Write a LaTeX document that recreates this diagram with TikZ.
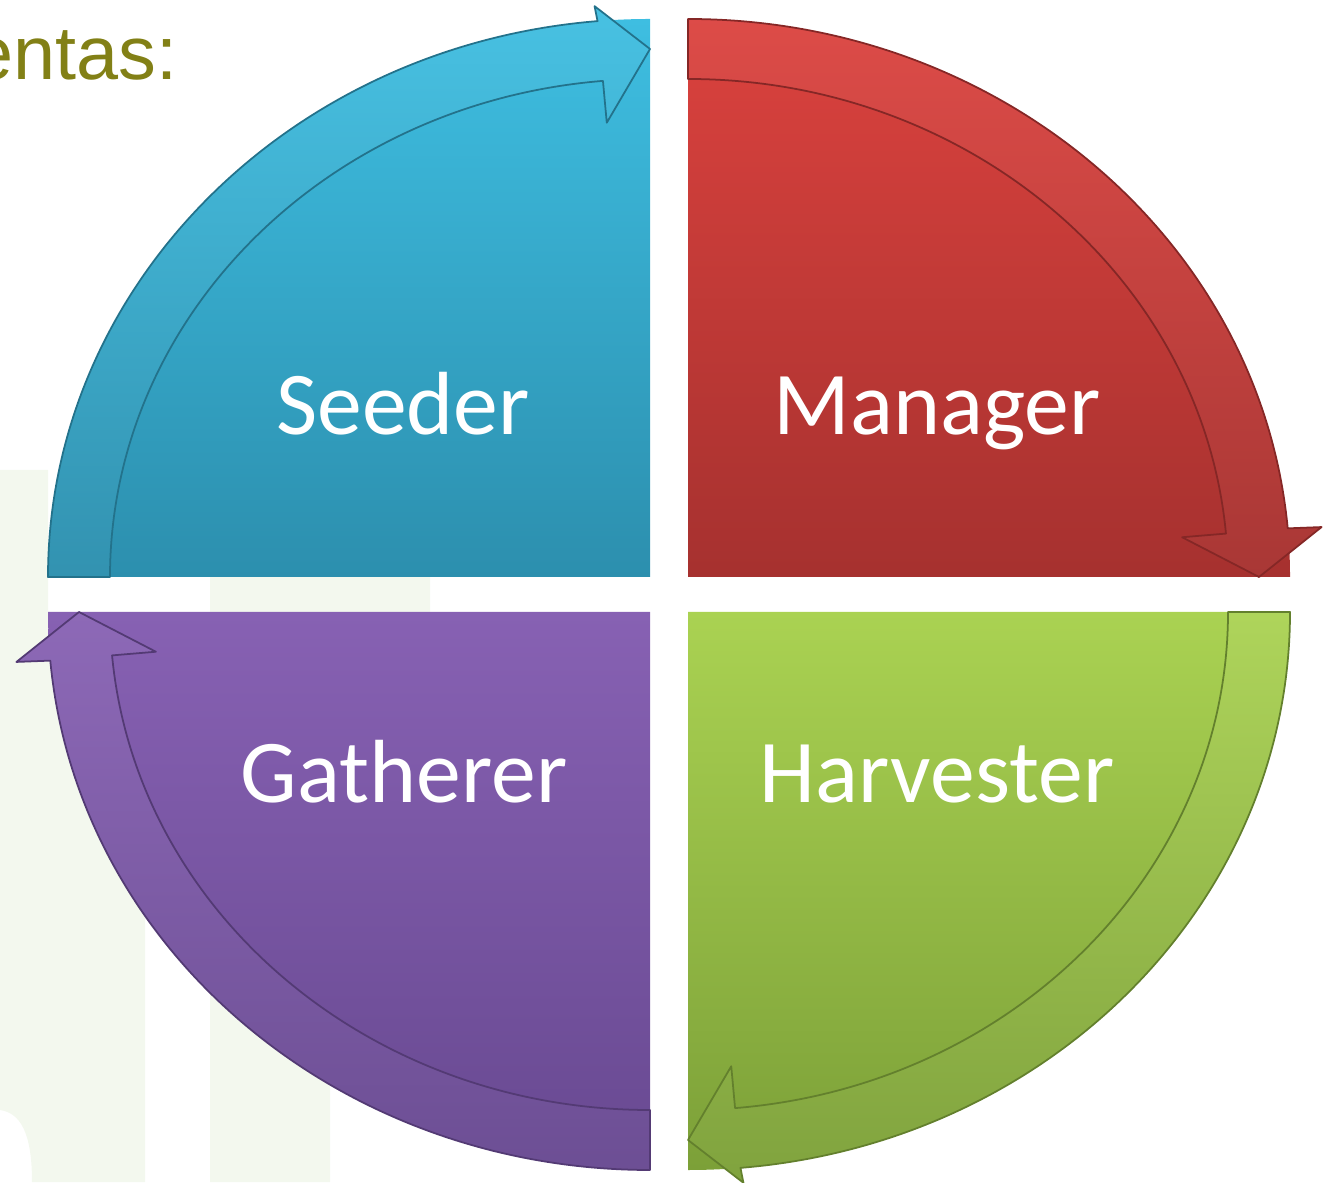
\documentclass[tikz,border=0pt]{standalone}
\usepackage{fontspec}
\setmainfont{Carlito}
\newfontfamily\headfont{Liberation Sans}
\usetikzlibrary{positioning}

\definecolor{seedtop}{RGB}{62,190,225}
\definecolor{seedbot}{RGB}{44,143,174}
\definecolor{mantop}{RGB}{219,66,62}
\definecolor{manbot}{RGB}{166,49,47}
\definecolor{hartop}{RGB}{170,210,82}
\definecolor{harbot}{RGB}{124,160,56}
\definecolor{gattop}{RGB}{135,97,179}
\definecolor{gatbot}{RGB}{104,73,145}
\definecolor{olivehead}{RGB}{130,128,22}
\definecolor{faintgreen}{RGB}{243,248,238}

\tikzset{rolename/.style={text=white, font=\fontsize{25.5}{30}\selectfont,
    inner sep=0pt, anchor=base}}
\tikzset{watermark/.style={fill=faintgreen, draw=none}}
\tikzset{arrowband/.style={line width=.5pt, line join=round}}

% #1 corner, #2 start angle, #3 head angle, #4 end angle, #5 top, #6 bottom
\newcommand{\cyclequad}[6]{%
  \shade[top color=#5, bottom color=#6] (#1) -- ([shift={(#1)}]#2:602 and 558)
    arc[start angle=#2, end angle=#4, x radius=602, y radius=558] -- cycle;
  \shade[arrowband, top color=#5!95!white, bottom color=#6!97!white, draw=#6!80!black]
    ([shift={(#1)}]#2:602 and 558)
    arc[start angle=#2, end angle=#3, x radius=602, y radius=558]
    -- ([shift={(#1)}]#3:636 and 573) -- ([shift={(#1)}]#4:571 and 528)
    -- ([shift={(#1)}]#3:496 and 456) -- ([shift={(#1)}]#3:540 and 498)
    arc[start angle=#3, end angle=#2, x radius=540, y radius=498] -- cycle;
}

\begin{document}
\begin{tikzpicture}[x=0.01cm, y=0.01cm]
    \useasboundingbox (0,0) rectangle (1325,1182);
    % faint logo behind
    \fill[watermark] (0,712) -- (48,712) -- (48,570) -- (145,570) -- (145,0) -- (32,0)
        .. controls (32,50) and (20,69) .. (0,72) -- cycle;
    \fill[watermark] (210,605) -- (430,605) -- (430,570) -- (330,570)
        -- (330,0) -- (210,0) -- cycle;

    \coordinate (cseed) at (650,605);
    \coordinate (cman) at (688,605);
    \coordinate (charv) at (688,570);
    \coordinate (cgath) at (650,570);

    \cyclequad{cseed}{180}{95}{90}{seedtop}{seedbot}
    \cyclequad{cman}{90}{5}{0}{mantop}{manbot}
    \cyclequad{charv}{0}{-85}{-90}{hartop}{harbot}
    \cyclequad{cgath}{-90}{-175}{-180}{gattop}{gatbot}

    \node[rolename] (seeder) at (403,747) {Seeder};
    \node[rolename] (manager) at (937,747) {Manager};
    \node[rolename] (gatherer) at (404,379) {Gatherer};
    \node[rolename] (harvester) at (937,379) {Harvester};

    \node[anchor=base east, inner sep=0pt, text=olivehead,
        font=\headfont\fontsize{21.5}{26}\selectfont] (heading) at (178,1102) {entas:};
\end{tikzpicture}
\end{document}
